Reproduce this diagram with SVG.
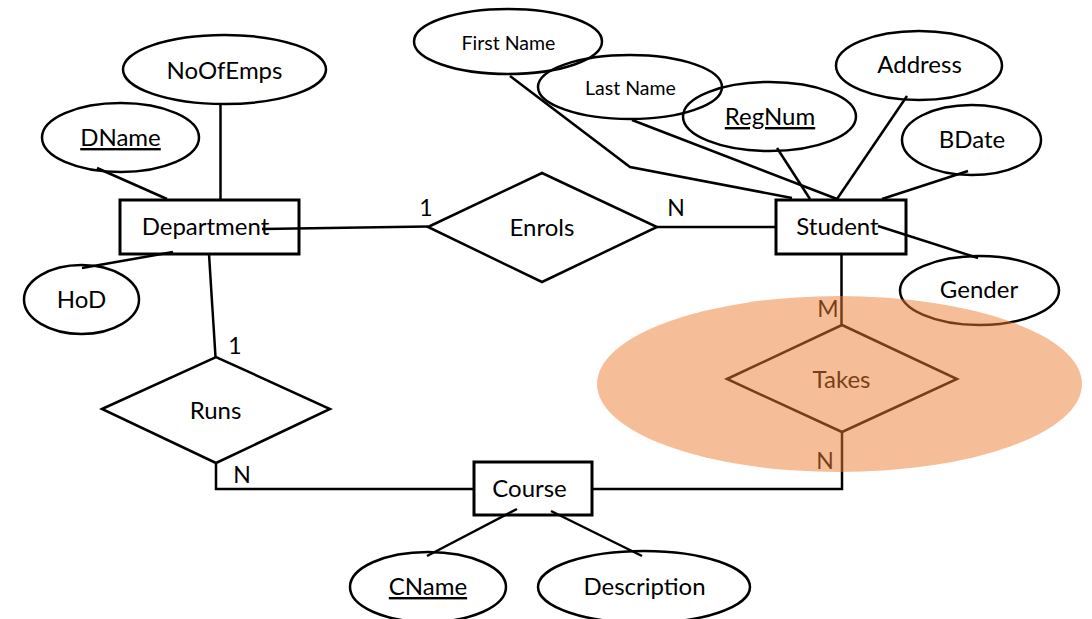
<svg xmlns="http://www.w3.org/2000/svg" width="1092" height="619" viewBox="0 0 1092 619">
  <style>
    .shape { fill: none; stroke: #000; stroke-width: 2.5; }
    .box { fill: none; stroke: #000; stroke-width: 3; }
    .link { fill: none; stroke: #000; stroke-width: 2.5; }
    text { font-family: Lato, "Open Sans", sans-serif; fill: #000; text-anchor: middle; }
    .lbl { font-size: 24px; }
    .small { font-size: 19.5px; }
    .key { text-decoration: underline; }
    .card { font-size: 23px; }
    .highlight { fill: #ED7D31; fill-opacity: 0.5; stroke: none; }
  </style>
  <rect width="1092" height="619" fill="#fff"/>

  <!-- connectors -->
  <g id="connectors">
    <line class="link" x1="220.5" y1="104" x2="220.5" y2="200"/>
    <line class="link" x1="97" y1="168" x2="167" y2="199"/>
    <line class="link" x1="82" y1="268" x2="173" y2="252"/>
    <line class="link" x1="262" y1="229" x2="428" y2="226.5"/>
    <line class="link" x1="657" y1="227" x2="776" y2="227"/>
    <line class="link" x1="209" y1="254" x2="215.5" y2="357"/>
    <polyline class="link" points="216,463 216,489 474,489"/>
    <polyline class="link" points="592,489 842,489 842,432"/>
    <line class="link" x1="841.5" y1="254" x2="841.5" y2="325"/>
    <polyline class="link" points="510,76 630,167 792,198"/>
    <line class="link" x1="632" y1="120" x2="837" y2="199"/>
    <line class="link" x1="777" y1="148" x2="810" y2="199"/>
    <line class="link" x1="907" y1="96" x2="837" y2="199"/>
    <line class="link" x1="968" y1="171" x2="882" y2="199"/>
    <line class="link" x1="878" y1="226" x2="978" y2="258"/>
    <line class="link" x1="517" y1="509" x2="427" y2="556"/>
    <line class="link" x1="551" y1="511" x2="642" y2="556"/>
  </g>

  <!-- cardinalities -->
  <g id="cardinalities">
    <text class="card" x="426" y="216">1</text>
    <text class="card" x="676" y="216">N</text>
    <text class="card" x="235" y="354">1</text>
    <text class="card" x="242" y="483">N</text>
    <text class="card" x="828" y="317">M</text>
    <text class="card" x="825" y="469">N</text>
  </g>

  <!-- entities -->
  <g id="department">
    <rect class="box" x="120" y="200" width="179" height="54"/>
    <text class="lbl" x="205.5" y="235">Department</text>
  </g>
  <g id="student">
    <rect class="box" x="776" y="200" width="130" height="54"/>
    <text class="lbl" x="837.5" y="235">Student</text>
  </g>
  <g id="course">
    <rect class="box" x="474" y="462" width="118" height="53"/>
    <text class="lbl" x="529.5" y="497">Course</text>
  </g>

  <!-- relationships -->
  <g id="enrols">
    <polygon class="shape" points="428,227 542,173 657,227 542,282"/>
    <text class="lbl" x="542" y="236">Enrols</text>
  </g>
  <g id="runs">
    <polygon class="shape" points="102,409 216,357 330,409 216,463"/>
    <text class="lbl" x="215.5" y="419">Runs</text>
  </g>
  <g id="takes">
    <polygon class="shape" points="727,379 842,325 957,379 842,432"/>
    <text class="lbl" x="841.5" y="388">Takes</text>
  </g>

  <!-- attributes -->
  <g id="attr-noofemps">
    <ellipse class="shape" cx="224.5" cy="69.5" rx="101.5" ry="34.5"/>
    <text class="lbl" x="224.5" y="79">NoOfEmps</text>
  </g>
  <g id="attr-dname">
    <ellipse class="shape" cx="120.5" cy="137.5" rx="78.5" ry="34.5"/>
    <text class="lbl key" x="120.5" y="146">DName</text>
  </g>
  <g id="attr-hod">
    <ellipse class="shape" cx="81.5" cy="299.5" rx="57.5" ry="34.5"/>
    <text class="lbl" x="81.5" y="308">HoD</text>
  </g>
  <g id="attr-firstname">
    <ellipse class="shape" cx="508" cy="41.5" rx="94" ry="32.5"/>
    <text class="small" x="508.5" y="50">First Name</text>
  </g>
  <g id="attr-lastname">
    <ellipse class="shape" cx="630" cy="87" rx="92" ry="32"/>
    <text class="small" x="630.5" y="95">Last Name</text>
  </g>
  <g id="attr-regnum">
    <ellipse class="shape" cx="769.5" cy="116.5" rx="86.5" ry="34.5"/>
    <text class="lbl key" x="770" y="125">RegNum</text>
  </g>
  <g id="attr-address">
    <ellipse class="shape" cx="919" cy="65.5" rx="83" ry="34.5"/>
    <text class="lbl" x="919.5" y="73">Address</text>
  </g>
  <g id="attr-bdate">
    <ellipse class="shape" cx="971.5" cy="140" rx="69.5" ry="35"/>
    <text class="lbl" x="972" y="148">BDate</text>
  </g>
  <g id="attr-gender">
    <ellipse class="shape" cx="979.5" cy="290.5" rx="79.5" ry="34.5"/>
    <text class="lbl" x="979" y="298">Gender</text>
  </g>
  <g id="attr-cname">
    <ellipse class="shape" cx="428" cy="587" rx="78" ry="35"/>
    <text class="lbl key" x="428" y="595">CName</text>
  </g>
  <g id="attr-description">
    <ellipse class="shape" cx="644" cy="587" rx="106" ry="36"/>
    <text class="lbl" x="644.5" y="595">Description</text>
  </g>

  <!-- translucent emphasis over the Takes relationship -->
  <ellipse id="takes-highlight" class="highlight" cx="839.5" cy="384" rx="242.5" ry="88"/>
</svg>
